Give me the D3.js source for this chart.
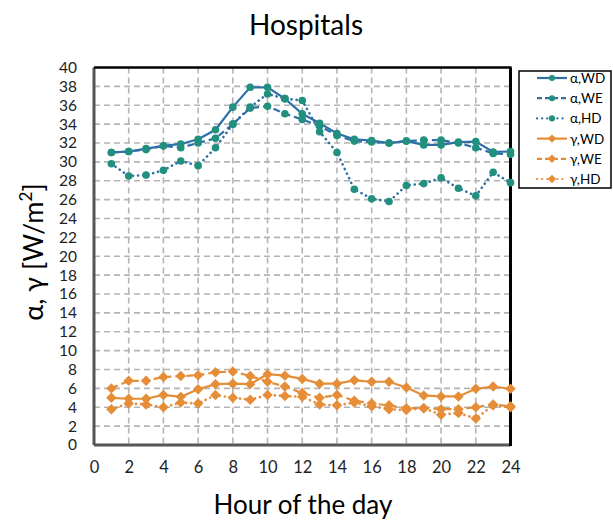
<!DOCTYPE html>
<html>
<head>
<meta charset="utf-8">
<script src="https://cdn.jsdelivr.net/npm/d3@7"></script>
<style>
  body { margin: 0; background: #fff; }
  svg { display: block; font-family: Lato, "Open Sans", sans-serif; }
</style>
</head>
<body>
<svg id="chart" width="613" height="520"></svg>
<script>
// Hours of the day
const hours = d3.range(1, 25);

// Convective (α) and radiative (γ) gains per day type [W/m²]
const alphaWD = [31.0, 31.1, 31.4, 31.7, 31.9, 32.4, 33.4, 35.8, 37.9, 37.9, 36.7, 35.1, 34.1, 33.0, 32.4, 32.25, 32.0, 32.2, 31.8, 31.8, 32.1, 32.15, 31.05, 31.1];
const alphaWE = [31.0, 31.1, 31.3, 31.7, 31.5, 32.0, 32.5, 34.0, 35.7, 35.9, 35.1, 34.5, 33.8, 32.8, 32.2, 32.1, 32.0, 32.2, 32.3, 32.3, 32.0, 31.5, 30.9, 30.8];
const alphaHD = [29.8, 28.5, 28.6, 29.1, 30.1, 29.6, 31.5, 34.0, 35.8, 37.2, 36.7, 36.5, 33.2, 31.0, 27.1, 26.1, 25.8, 27.5, 27.7, 28.3, 27.2, 26.4, 28.9, 27.8];
const gammaWD = [5.0, 4.9, 4.9, 5.3, 5.1, 5.9, 6.45, 6.5, 6.45, 7.5, 7.35, 7.0, 6.5, 6.5, 6.85, 6.7, 6.7, 6.1, 5.25, 5.15, 5.15, 5.95, 6.2, 5.95];
const gammaWE = [6.0, 6.8, 6.8, 7.2, 7.3, 7.4, 7.7, 7.8, 7.3, 6.7, 6.2, 5.5, 5.0, 5.3, 4.7, 4.4, 4.2, 3.9, 3.9, 3.8, 3.8, 4.0, 4.3, 4.1];
const gammaHD = [3.8, 4.4, 4.3, 4.0, 4.5, 4.4, 5.3, 5.0, 4.8, 5.3, 5.2, 5.1, 4.3, 4.2, 4.5, 4.1, 3.8, 3.7, 3.9, 3.2, 3.4, 2.8, 4.2, 4.0];

const seriesNames = ["α,WD", "α,WE", "α,HD", "γ,WD", "γ,WE", "γ,HD"];
const xTicks = d3.range(0, 25, 2);
const yTicks = d3.range(0, 41, 2);

const title = "Hospitals";
const xTitle = "Hour of the day";

const blueLine = "#2e6fa7";
const tealMark = "#21907f";
const orange = "#e58d37";

const series = [
  { name: seriesNames[0], values: alphaWD, dash: null, line: blueLine, mark: tealMark, shape: "circle" },
  { name: seriesNames[1], values: alphaWE, dash: "7,4", line: blueLine, mark: tealMark, shape: "circle" },
  { name: seriesNames[2], values: alphaHD, dash: "0.1,5", line: blueLine, mark: tealMark, shape: "circle" },
  { name: seriesNames[3], values: gammaWD, dash: null, line: orange, mark: orange, shape: "diamond" },
  { name: seriesNames[4], values: gammaWE, dash: "7,4", line: orange, mark: orange, shape: "diamond" },
  { name: seriesNames[5], values: gammaHD, dash: "0.1,5", line: orange, mark: orange, shape: "diamond" }
];

const svg = d3.select("#chart");
const plot = { left: 94, right: 510.5, top: 67.5, bottom: 445 };

const x = d3.scaleLinear().domain([0, 24]).range([plot.left, plot.right]);
const y = d3.scaleLinear().domain([0, 40]).range([plot.bottom, plot.top]);

// Title
svg.append("text")
  .attr("x", 306).attr("y", 35)
  .attr("text-anchor", "middle")
  .attr("font-size", 28)
  .attr("fill", "#000")
  .text(title);

// Grid
const grid = svg.append("g").attr("stroke", "#b4b4b4").attr("stroke-width", 1.6).attr("stroke-dasharray", "6,4");
grid.selectAll("line.h").data(yTicks.filter(v => v > 0 && v < 40)).join("line")
  .attr("x1", plot.left).attr("x2", plot.right)
  .attr("y1", d => y(d)).attr("y2", d => y(d));
grid.selectAll("line.v").data(xTicks.filter(v => v > 0 && v < 24)).join("line")
  .attr("y1", plot.top).attr("y2", plot.bottom)
  .attr("x1", d => x(d)).attr("x2", d => x(d));

// Axes (labels only, frame drawn separately)
const yAxis = svg.append("g")
  .attr("transform", `translate(${plot.left},0)`)
  .call(d3.axisLeft(y).tickValues(yTicks).tickSize(0).tickPadding(17));
yAxis.select(".domain").remove();
yAxis.selectAll("text").attr("font-size", 15.5).attr("fill", "#222").attr("font-family", "Lato, sans-serif");

const xAxis = svg.append("g")
  .attr("transform", `translate(0,${plot.bottom})`)
  .call(d3.axisBottom(x).tickValues(xTicks).tickSize(0).tickPadding(16));
xAxis.select(".domain").remove();
xAxis.selectAll("text").attr("font-size", 16.5).attr("fill", "#222").attr("font-family", "Lato, sans-serif");

// Axis titles
svg.append("text")
  .attr("x", 303).attr("y", 514)
  .attr("text-anchor", "middle")
  .attr("font-size", 26)
  .attr("fill", "#000")
  .text(xTitle);

const yTitle = svg.append("text")
  .attr("transform", "translate(43,252) rotate(-90)")
  .attr("text-anchor", "middle")
  .attr("font-size", 27)
  .attr("fill", "#000");
yTitle.append("tspan").text("α, γ [W/m");
yTitle.append("tspan").attr("dy", -11).attr("font-size", 17).text("2");
yTitle.append("tspan").attr("dy", 11).text("]");

// Plot frame
svg.append("line").attr("x1", plot.left).attr("x2", plot.left).attr("y1", plot.top).attr("y2", plot.bottom)
  .attr("stroke", "#555").attr("stroke-width", 3);
svg.append("line").attr("x1", plot.left).attr("x2", plot.right).attr("y1", plot.bottom).attr("y2", plot.bottom)
  .attr("stroke", "#555").attr("stroke-width", 3);
svg.append("line").attr("x1", plot.left).attr("x2", plot.right + 1).attr("y1", plot.top).attr("y2", plot.top)
  .attr("stroke", "#000").attr("stroke-width", 2.5);
svg.append("line").attr("x1", plot.right).attr("x2", plot.right).attr("y1", plot.top).attr("y2", plot.bottom + 1)
  .attr("stroke", "#000").attr("stroke-width", 3);

// Series
const line = d3.line().x((d, i) => x(hours[i])).y(d => y(d));

function drawMarker(g, s, cx, cy, scale) {
  if (s.shape === "circle") {
    g.append("circle").attr("cx", cx).attr("cy", cy).attr("r", 3.8 * scale).attr("fill", s.mark);
  } else {
    g.append("path").attr("d", d3.symbol().type(d3.symbolDiamond2).size(70 * scale * scale)())
      .attr("transform", `translate(${cx},${cy})`).attr("fill", s.mark);
  }
}

// gamma first, then alpha; HD under WE under WD
const order = [5, 4, 3, 2, 1, 0];
order.forEach(k => {
  const s = series[k];
  const g = svg.append("g");
  g.append("path")
    .attr("d", line(s.values))
    .attr("fill", "none")
    .attr("stroke", s.line)
    .attr("stroke-width", s.dash === "0.1,5" ? 2.6 : 2.2)
    .attr("stroke-linecap", s.dash === "0.1,5" ? "round" : "butt")
    .attr("stroke-dasharray", s.dash);
  s.values.forEach((v, i) => drawMarker(g, s, x(hours[i]), y(v), 1));
});

// Legend
const lg = svg.append("g");
lg.append("rect").attr("x", 519).attr("y", 71).attr("width", 92).attr("height", 117)
  .attr("fill", "#fff").attr("stroke", "#000").attr("stroke-width", 1.5);
series.forEach((s, i) => {
  const cy = 78 + i * 20.2;
  lg.append("line").attr("x1", 537).attr("x2", 567).attr("y1", cy).attr("y2", cy)
    .attr("stroke", s.line).attr("stroke-width", 2.2)
    .attr("stroke-linecap", s.dash === "0.1,5" ? "round" : "butt")
    .attr("stroke-dasharray", s.dash === "0.1,5" ? "0.1,5" : (s.dash ? "5,3" : null));
  drawMarker(lg, s, 552, cy, 0.8);
  lg.append("text").attr("x", 570).attr("y", cy + 5)
    .attr("font-size", 13.5).attr("fill", "#000")
    .text(s.name);
});
</script>
</body>
</html>
